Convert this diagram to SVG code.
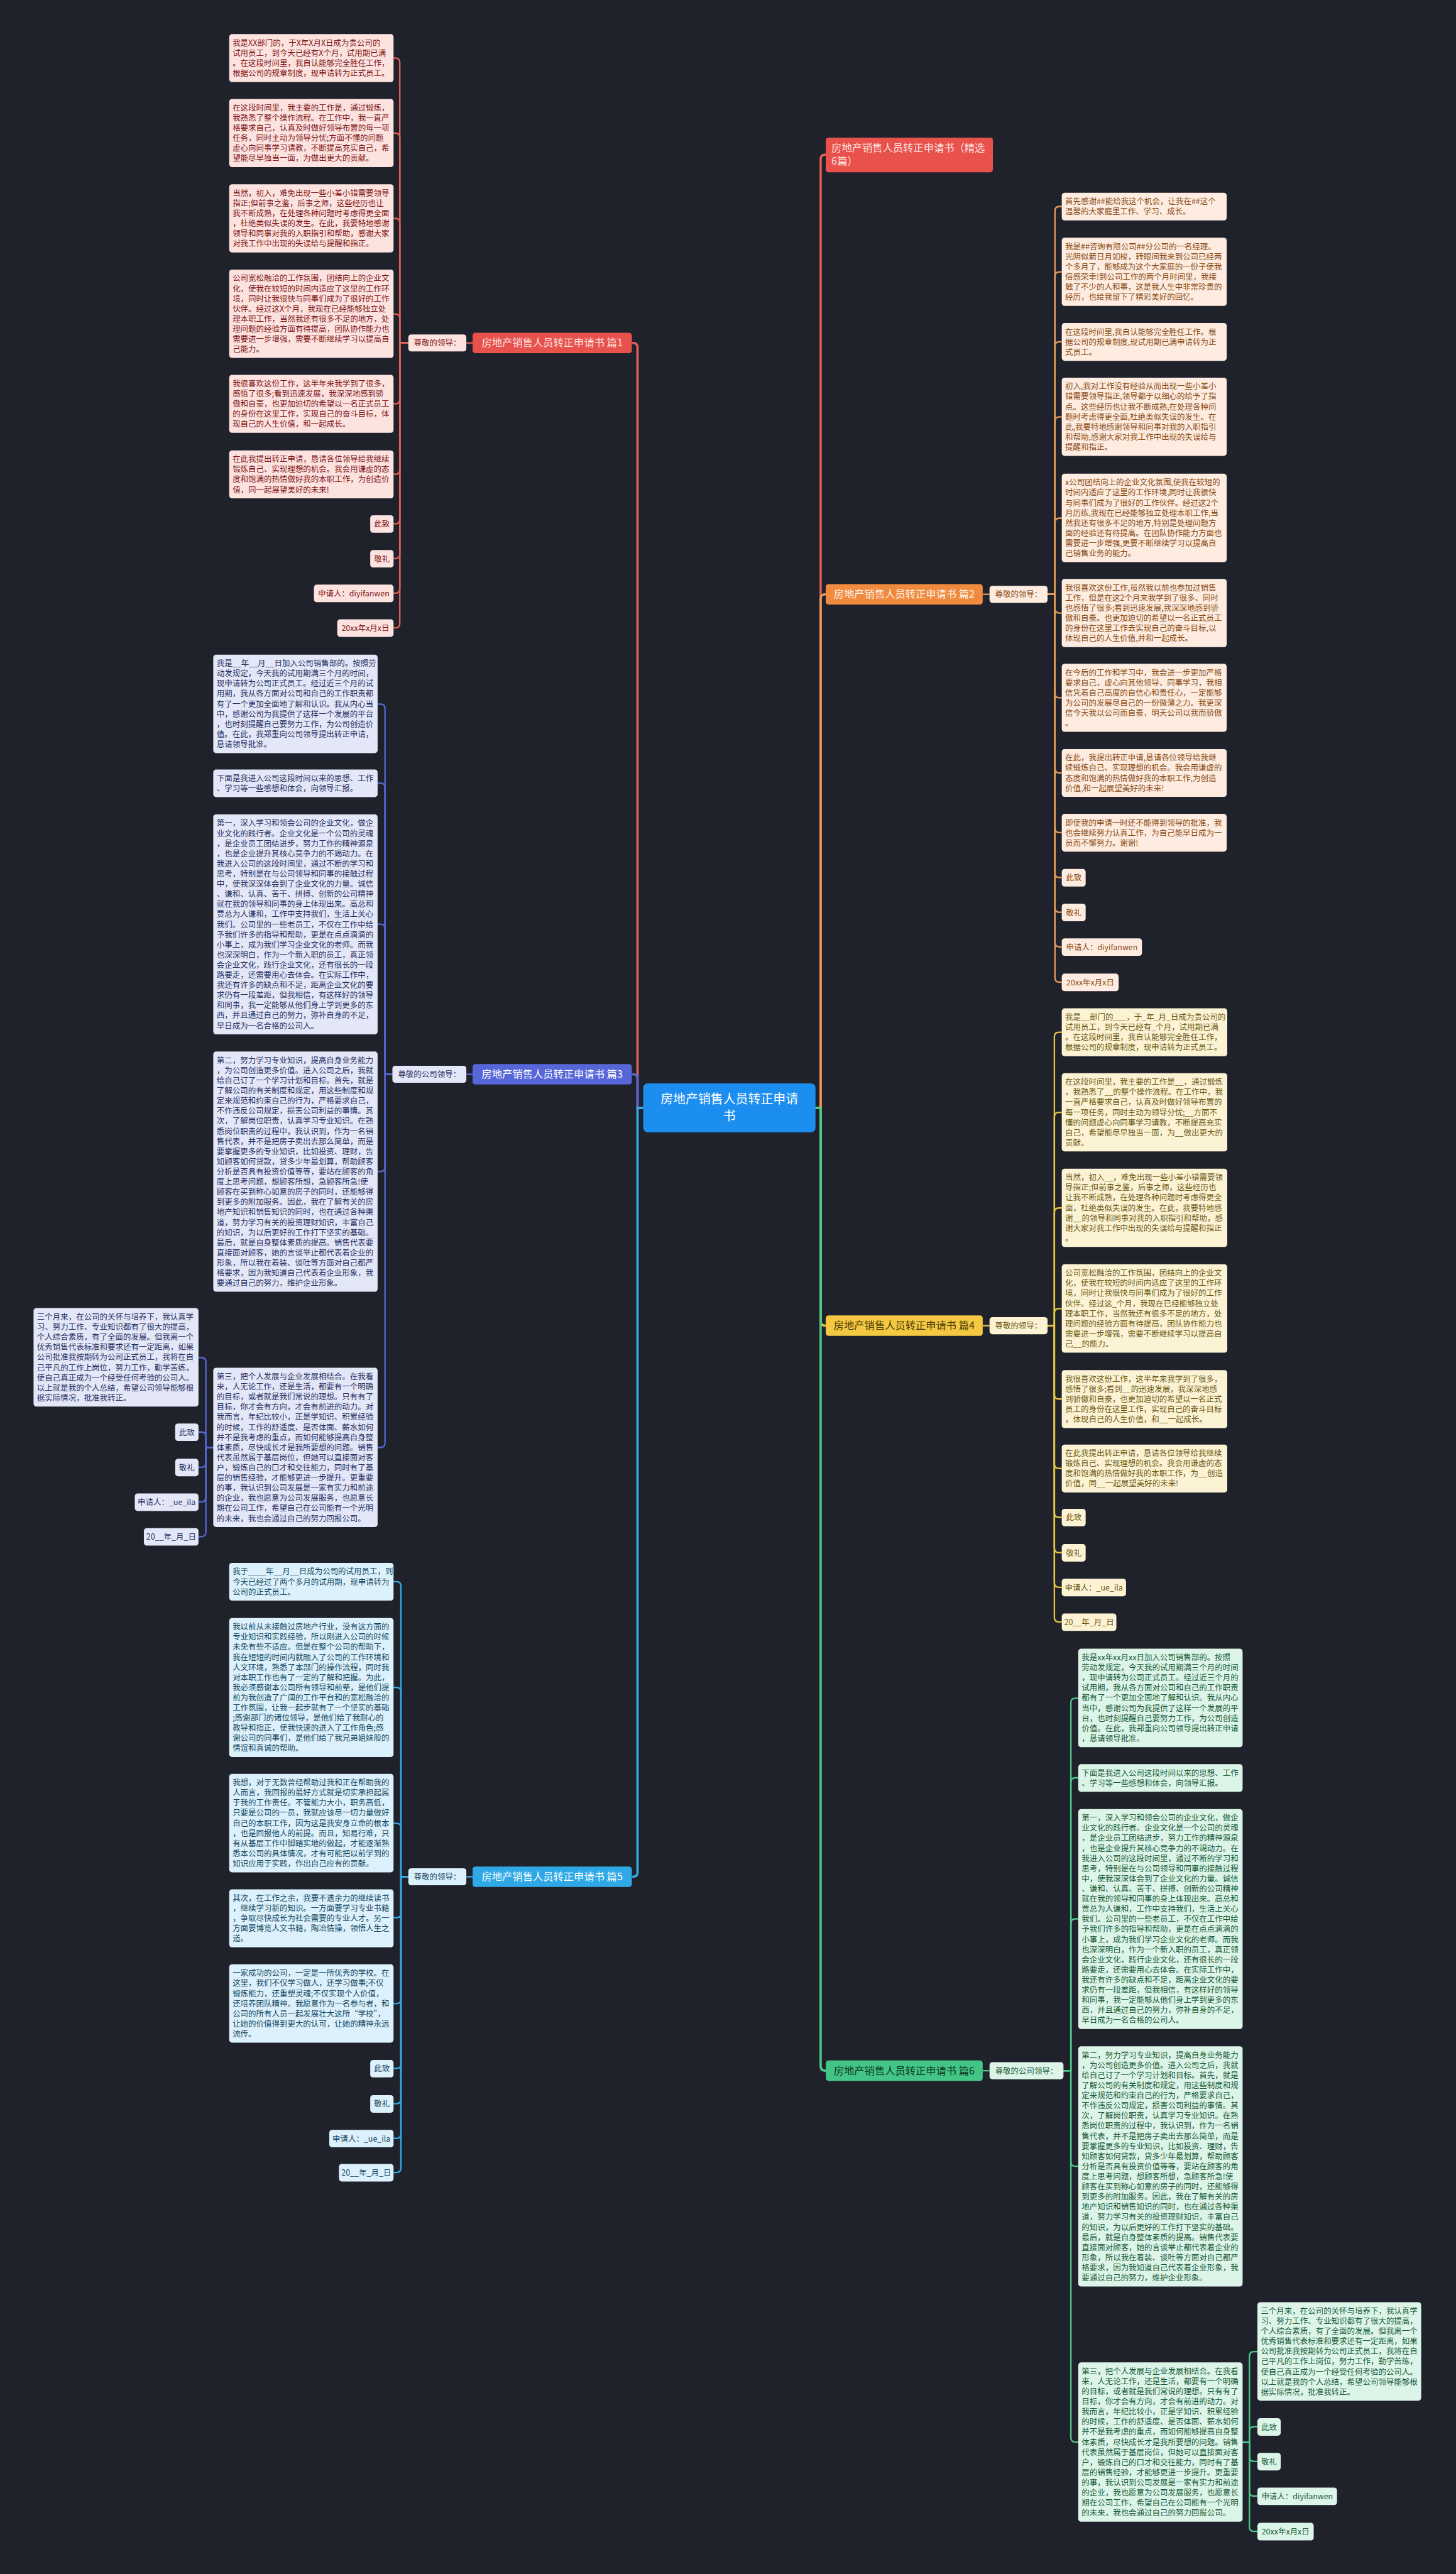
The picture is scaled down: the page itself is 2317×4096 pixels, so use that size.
<svg xmlns="http://www.w3.org/2000/svg" width="2317" height="4096" viewBox="0 0 2317 4096">
<style>
text{font-family:"Noto Sans CJK SC","Noto Sans",sans-serif;}
.t{font-size:13.8px}
.m{text-anchor:middle}
.f1{fill:#fde3e0}.c1{fill:#7d1616}.l1{stroke:#e0605a}
.f2{fill:#fdecdf}.c2{fill:#8a4b15}.l2{stroke:#e99a55}
.f3{fill:#e4e7f8}.c3{fill:#283262}.l3{stroke:#5566d6}
.f4{fill:#fcf3d4}.c4{fill:#6b5914}.l4{stroke:#e8c444}
.f5{fill:#dcf1fb}.c5{fill:#164863}.l5{stroke:#35aae8}
.f6{fill:#dcf5e8}.c6{fill:#1a5a3a}.l6{stroke:#4dc98c}
.cn path{fill:none;stroke-width:2.6}
.rc path{fill:none;stroke-width:4}
.bn{font-size:18px}
</style>
<rect width="2317" height="4096" fill="#1f222b"/>
<g transform="scale(0.905)">

<g id="connectors">
<g class="rc">
<path class="l1" d="M1131 1948H1121V611Q1121 603 1113 603H1111"/>
<path class="l3" d="M1131 1948H1121V1897Q1121 1889 1113 1889H1111"/>
<path class="l5" d="M1131 1948H1121V3292Q1121 3300 1113 3300H1111"/>
<path class="l1" d="M1434 1948H1443V280Q1443 272 1451 272H1452"/>
<path class="l2" d="M1434 1948H1443V1053Q1443 1045 1451 1045H1452"/>
<path class="l4" d="M1434 1948H1443V2323Q1443 2331 1451 2331H1452"/>
<path class="l6" d="M1434 1948H1443V3633Q1443 3641 1451 3641H1452"/>
</g>
<g class="cn">
<path class="l1" d="M831 603H820"/>
<path class="l1" d="M718 603H703V110Q703 102 695 102H692"/>
<path class="l1" d="M718 603H703V242Q703 234 695 234H692"/>
<path class="l1" d="M718 603H703V392Q703 384 695 384H692"/>
<path class="l1" d="M718 603H703V560Q703 552 695 552H692"/>
<path class="l1" d="M718 603H703V702Q703 710 695 710H692"/>
<path class="l1" d="M718 603H703V826Q703 834 695 834H692"/>
<path class="l1" d="M718 603H703V913Q703 921 695 921H692"/>
<path class="l1" d="M718 603H703V974Q703 982 695 982H692"/>
<path class="l1" d="M718 603H703V1035Q703 1043 695 1043H692"/>
<path class="l1" d="M718 603H703V1096Q703 1104 695 1104H692"/>

<path class="l3" d="M831 1889H820"/>
<path class="l3" d="M690 1889H677V1246Q677 1238 669 1238H664"/>
<path class="l3" d="M690 1889H677V1385Q677 1377 669 1377H664"/>
<path class="l3" d="M690 1889H677V1633Q677 1625 669 1625H664"/>
<path class="l3" d="M690 1889H677V2052Q677 2060 669 2060H664"/>
<path class="l3" d="M690 1889H677V2537Q677 2545 669 2545H664"/>
<path class="l3" d="M375 2545H362V2395Q362 2387 354 2387H349"/>
<path class="l3" d="M375 2545H362V2526Q362 2518 354 2518H349"/>
<path class="l3" d="M375 2545H362V2572Q362 2580 354 2580H349"/>
<path class="l3" d="M375 2545H362V2633Q362 2641 354 2641H349"/>
<path class="l3" d="M375 2545H362V2694Q362 2702 354 2702H349"/>

<path class="l5" d="M831 3300H820"/>
<path class="l5" d="M718 3300H705V2789Q705 2781 697 2781H692"/>
<path class="l5" d="M718 3300H705V2975Q705 2967 697 2967H692"/>
<path class="l5" d="M718 3300H705V3214Q705 3206 697 3206H692"/>
<path class="l5" d="M718 3300H705V3364Q705 3372 697 3372H692"/>
<path class="l5" d="M718 3300H705V3515Q705 3523 697 3523H692"/>
<path class="l5" d="M718 3300H705V3629Q705 3637 697 3637H692"/>
<path class="l5" d="M718 3300H705V3691Q705 3699 697 3699H692"/>
<path class="l5" d="M718 3300H705V3752Q705 3760 697 3760H692"/>
<path class="l5" d="M718 3300H705V3812Q705 3820 697 3820H692"/>

<path class="l2" d="M1728 1045H1740"/>
<path class="l2" d="M1842 1045H1855V371Q1855 363 1863 363H1867"/>
<path class="l2" d="M1842 1045H1855V486Q1855 478 1863 478H1867"/>
<path class="l2" d="M1842 1045H1855V609Q1855 601 1863 601H1867"/>
<path class="l2" d="M1842 1045H1855V741Q1855 733 1863 733H1867"/>
<path class="l2" d="M1842 1045H1855V919Q1855 911 1863 911H1867"/>
<path class="l2" d="M1842 1045H1855V1070Q1855 1078 1863 1078H1867"/>
<path class="l2" d="M1842 1045H1855V1219Q1855 1227 1863 1227H1867"/>
<path class="l2" d="M1842 1045H1855V1351Q1855 1359 1863 1359H1867"/>
<path class="l2" d="M1842 1045H1855V1456Q1855 1464 1863 1464H1867"/>
<path class="l2" d="M1842 1045H1855V1535Q1855 1543 1863 1543H1867"/>
<path class="l2" d="M1842 1045H1855V1596Q1855 1604 1863 1604H1867"/>
<path class="l2" d="M1842 1045H1855V1657Q1855 1665 1863 1665H1867"/>
<path class="l2" d="M1842 1045H1855V1719Q1855 1727 1863 1727H1867"/>

<path class="l4" d="M1728 2331H1740"/>
<path class="l4" d="M1842 2331H1854V1823Q1854 1815 1862 1815H1867"/>
<path class="l4" d="M1842 2331H1854V1964Q1854 1956 1862 1956H1867"/>
<path class="l4" d="M1842 2331H1854V2132Q1854 2124 1862 2124H1867"/>
<path class="l4" d="M1842 2331H1854V2309Q1854 2301 1862 2301H1867"/>
<path class="l4" d="M1842 2331H1854V2452Q1854 2460 1862 2460H1867"/>
<path class="l4" d="M1842 2331H1854V2574Q1854 2582 1862 2582H1867"/>
<path class="l4" d="M1842 2331H1854V2660Q1854 2668 1862 2668H1867"/>
<path class="l4" d="M1842 2331H1854V2722Q1854 2730 1862 2730H1867"/>
<path class="l4" d="M1842 2331H1854V2783Q1854 2791 1862 2791H1867"/>
<path class="l4" d="M1842 2331H1854V2844Q1854 2852 1862 2852H1867"/>

<path class="l6" d="M1728 3641H1740"/>
<path class="l6" d="M1870 3641H1883V2994Q1883 2986 1891 2986H1896"/>
<path class="l6" d="M1870 3641H1883V3134Q1883 3126 1891 3126H1896"/>
<path class="l6" d="M1870 3641H1883V3382Q1883 3374 1891 3374H1896"/>
<path class="l6" d="M1870 3641H1883V3801Q1883 3809 1891 3809H1896"/>
<path class="l6" d="M1870 3641H1883V4286Q1883 4294 1891 4294H1896"/>
<path class="l6" d="M2185 4294H2197V4143Q2197 4135 2205 4135H2211"/>
<path class="l6" d="M2185 4294H2197V4275Q2197 4267 2205 4267H2211"/>
<path class="l6" d="M2185 4294H2197V4320Q2197 4328 2205 4328H2211"/>
<path class="l6" d="M2185 4294H2197V4381Q2197 4389 2205 4389H2211"/>
<path class="l6" d="M2185 4294H2197V4443Q2197 4451 2205 4451H2211"/>
</g>
</g>

<g id="root">
<rect x="1131" y="1905" width="303" height="86" rx="8" fill="#1c8ef0"/>
<text x="1282.5" y="1940" class="m" font-size="22" fill="#ffffff">房地产销售人员转正申请<tspan x="1282.5" dy="30">书</tspan></text>
</g>

<g id="b0">
<rect x="1452" y="242" width="294" height="61" rx="5" fill="#e8514c"/>
<text x="1462" y="266" class="bn" fill="#fde3e0">房地产销售人员转正申请书（精选<tspan x="1462" dy="24">6篇）</tspan></text>
</g>

<!-- 篇1 -->
<g id="b1">
<rect x="831" y="585" width="280" height="36" rx="5" fill="#e8514c"/>
<text x="971" y="609" class="bn m" fill="#fde3e0">房地产销售人员转正申请书 篇1</text>
</g>
<g id="b1-lab"><rect x="718" y="588" width="102" height="30" rx="5" class="f1"/><text x="769" y="608" class="t m c1">尊敬的领导：</text></g>
<g id="b1-1"><rect x="403" y="60" width="289" height="84.2" rx="5" class="f1"/><text class="t c1" x="409" y="80.4"><tspan x="409">我是XX部门的，于X年X月X日成为贵公司的</tspan><tspan x="409" dy="17.8">试用员工，到今天已经有X个月，试用期已满</tspan><tspan x="409" dy="17.8">。在这段时间里，我自认能够完全胜任工作，</tspan><tspan x="409" dy="17.8">根据公司的规章制度，现申请转为正式员工。</tspan></text></g>
<g id="b1-2"><rect x="403" y="174" width="289" height="119.8" rx="5" class="f1"/><text class="t c1" x="409" y="194.4"><tspan x="409">在这段时间里，我主要的工作是，通过锻炼，</tspan><tspan x="409" dy="17.8">我熟悉了整个操作流程。在工作中，我一直严</tspan><tspan x="409" dy="17.8">格要求自己，认真及时做好领导布置的每一项</tspan><tspan x="409" dy="17.8">任务，同时主动为领导分忧;方面不懂的问题</tspan><tspan x="409" dy="17.8">虚心向同事学习请教，不断提高充实自己，希</tspan><tspan x="409" dy="17.8">望能尽早独当一面，为做出更大的贡献。</tspan></text></g>
<g id="b1-3"><rect x="403" y="324" width="289" height="119.8" rx="5" class="f1"/><text class="t c1" x="409" y="344.4"><tspan x="409">当然，初入，难免出现一些小差小错需要领导</tspan><tspan x="409" dy="17.8">指正;但前事之鉴，后事之师，这些经历也让</tspan><tspan x="409" dy="17.8">我不断成熟，在处理各种问题时考虑得更全面</tspan><tspan x="409" dy="17.8">，杜绝类似失误的发生。在此，我要特地感谢</tspan><tspan x="409" dy="17.8">领导和同事对我的入职指引和帮助，感谢大家</tspan><tspan x="409" dy="17.8">对我工作中出现的失误给与提醒和指正。</tspan></text></g>
<g id="b1-4"><rect x="403" y="474" width="289" height="155.4" rx="5" class="f1"/><text class="t c1" x="409" y="494.4"><tspan x="409">公司宽松融洽的工作氛围，团结向上的企业文</tspan><tspan x="409" dy="17.8">化，使我在较短的时间内适应了这里的工作环</tspan><tspan x="409" dy="17.8">境，同时让我很快与同事们成为了很好的工作</tspan><tspan x="409" dy="17.8">伙伴。经过这X个月，我现在已经能够独立处</tspan><tspan x="409" dy="17.8">理本职工作，当然我还有很多不足的地方，处</tspan><tspan x="409" dy="17.8">理问题的经验方面有待提高，团队协作能力也</tspan><tspan x="409" dy="17.8">需要进一步增强，需要不断继续学习以提高自</tspan><tspan x="409" dy="17.8">己能力。</tspan></text></g>
<g id="b1-5"><rect x="403" y="659" width="289" height="102" rx="5" class="f1"/><text class="t c1" x="409" y="679.4"><tspan x="409">我很喜欢这份工作，这半年来我学到了很多，</tspan><tspan x="409" dy="17.8">感悟了很多;看到迅速发展，我深深地感到骄</tspan><tspan x="409" dy="17.8">傲和自豪，也更加迫切的希望以一名正式员工</tspan><tspan x="409" dy="17.8">的身份在这里工作，实现自己的奋斗目标，体</tspan><tspan x="409" dy="17.8">现自己的人生价值，和一起成长。</tspan></text></g>
<g id="b1-6"><rect x="403" y="792" width="289" height="84.2" rx="5" class="f1"/><text class="t c1" x="409" y="812.4"><tspan x="409">在此我提出转正申请，恳请各位领导给我继续</tspan><tspan x="409" dy="17.8">锻炼自己、实现理想的机会。我会用谦虚的态</tspan><tspan x="409" dy="17.8">度和饱满的热情做好我的本职工作，为创造价</tspan><tspan x="409" dy="17.8">值，同一起展望美好的未来!</tspan></text></g>
<g id="b1-7"><rect x="651" y="906" width="41" height="30.8" rx="5" class="f1"/><text x="671.5" y="926.4" class="t m c1">此致</text></g>
<g id="b1-8"><rect x="651" y="967" width="41" height="30.8" rx="5" class="f1"/><text x="671.5" y="987.4" class="t m c1">敬礼</text></g>
<g id="b1-9"><rect x="552" y="1028" width="140" height="30.8" rx="5" class="f1"/><text x="622" y="1048.4" class="t m c1">申请人：diyifanwen</text></g>
<g id="b1-10"><rect x="593" y="1089" width="99" height="30.8" rx="5" class="f1"/><text x="642.5" y="1109.4" class="t m c1">20xx年x月x日</text></g>

<!-- 篇2 -->
<g id="b2">
<rect x="1452" y="1027" width="276" height="36" rx="5" fill="#f08a3e"/>
<text x="1590" y="1051" class="bn m" fill="#fff2e6">房地产销售人员转正申请书 篇2</text>
</g>
<g id="b2-lab"><rect x="1740" y="1030" width="102" height="30" rx="5" class="f2"/><text x="1791" y="1050" class="t m c2">尊敬的领导：</text></g>
<g id="b2-1"><rect x="1867" y="339" width="290" height="48.6" rx="5" class="f2"/><text class="t c2" x="1873" y="359.4"><tspan x="1873">首先感谢##能给我这个机会，让我在##这个</tspan><tspan x="1873" dy="17.8">温馨的大家庭里工作、学习、成长。</tspan></text></g>
<g id="b2-2"><rect x="1867" y="418" width="290" height="119.8" rx="5" class="f2"/><text class="t c2" x="1873" y="438.4"><tspan x="1873">我是##咨询有限公司##分公司的一名经理。</tspan><tspan x="1873" dy="17.8">光阴似箭日月如梭，转眼间我来到公司已经两</tspan><tspan x="1873" dy="17.8">个多月了，能够成为这个大家庭的一份子使我</tspan><tspan x="1873" dy="17.8">倍感荣幸!到公司工作的两个月时间里，我接</tspan><tspan x="1873" dy="17.8">触了不少的人和事，这是我人生中非常珍贵的</tspan><tspan x="1873" dy="17.8">经历，也给我留下了精彩美好的回忆。</tspan></text></g>
<g id="b2-3"><rect x="1867" y="568" width="290" height="66.4" rx="5" class="f2"/><text class="t c2" x="1873" y="588.4"><tspan x="1873">在这段时间里,我自认能够完全胜任工作。根</tspan><tspan x="1873" dy="17.8">据公司的规章制度,现试用期已满申请转为正</tspan><tspan x="1873" dy="17.8">式员工。</tspan></text></g>
<g id="b2-4"><rect x="1867" y="664" width="290" height="137.6" rx="5" class="f2"/><text class="t c2" x="1873" y="684.4"><tspan x="1873">初入,我对工作没有经验从而出现一些小差小</tspan><tspan x="1873" dy="17.8">错需要领导指正,领导都于以细心的给予了指</tspan><tspan x="1873" dy="17.8">点。这些经历也让我不断成熟,在处理各种问</tspan><tspan x="1873" dy="17.8">题时考虑得更全面,杜绝类似失误的发生。在</tspan><tspan x="1873" dy="17.8">此,我要特地感谢领导和同事对我的入职指引</tspan><tspan x="1873" dy="17.8">和帮助,感谢大家对我工作中出现的失误给与</tspan><tspan x="1873" dy="17.8">提醒和指正。</tspan></text></g>
<g id="b2-5"><rect x="1867" y="833" width="290" height="155.4" rx="5" class="f2"/><text class="t c2" x="1873" y="853.4"><tspan x="1873">x公司团结向上的企业文化氛围,使我在较短的</tspan><tspan x="1873" dy="17.8">时间内适应了这里的工作环境,同时让我很快</tspan><tspan x="1873" dy="17.8">与同事们成为了很好的工作伙伴。经过这2个</tspan><tspan x="1873" dy="17.8">月历练,我现在已经能够独立处理本职工作,当</tspan><tspan x="1873" dy="17.8">然我还有很多不足的地方,特别是处理问题方</tspan><tspan x="1873" dy="17.8">面的经验还有待提高。在团队协作能力方面也</tspan><tspan x="1873" dy="17.8">需要进一步增强,更要不断继续学习以提高自</tspan><tspan x="1873" dy="17.8">己销售业务的能力。</tspan></text></g>
<g id="b2-6"><rect x="1867" y="1018" width="290" height="119.8" rx="5" class="f2"/><text class="t c2" x="1873" y="1038.4"><tspan x="1873">我很喜欢这份工作,虽然我以前也参加过销售</tspan><tspan x="1873" dy="17.8">工作，但是在这2个月来我学到了很多、同时</tspan><tspan x="1873" dy="17.8">也感悟了很多;看到迅速发展,我深深地感到骄</tspan><tspan x="1873" dy="17.8">傲和自豪。也更加迫切的希望以一名正式员工</tspan><tspan x="1873" dy="17.8">的身份在这里工作去实现自己的奋斗目标,以</tspan><tspan x="1873" dy="17.8">体现自己的人生价值,并和一起成长。</tspan></text></g>
<g id="b2-7"><rect x="1867" y="1167" width="290" height="119.8" rx="5" class="f2"/><text class="t c2" x="1873" y="1187.4"><tspan x="1873">在今后的工作和学习中，我会进一步更加严格</tspan><tspan x="1873" dy="17.8">要求自己，虚心向其他领导、同事学习，我相</tspan><tspan x="1873" dy="17.8">信凭着自己高度的自信心和责任心，一定能够</tspan><tspan x="1873" dy="17.8">为公司的发展尽自己的一份微薄之力。我更深</tspan><tspan x="1873" dy="17.8">信今天我以公司而自豪，明天公司以我而骄傲</tspan><tspan x="1873" dy="17.8">。</tspan></text></g>
<g id="b2-8"><rect x="1867" y="1317" width="290" height="84.2" rx="5" class="f2"/><text class="t c2" x="1873" y="1337.4"><tspan x="1873">在此，我提出转正申请,恳请各位领导给我继</tspan><tspan x="1873" dy="17.8">续锻炼自己、实现理想的机会。我会用谦虚的</tspan><tspan x="1873" dy="17.8">态度和饱满的热情做好我的本职工作,为创造</tspan><tspan x="1873" dy="17.8">价值,和一起展望美好的未来!</tspan></text></g>
<g id="b2-9"><rect x="1867" y="1431" width="290" height="66.4" rx="5" class="f2"/><text class="t c2" x="1873" y="1451.4"><tspan x="1873">即使我的申请一时还不能得到领导的批准，我</tspan><tspan x="1873" dy="17.8">也会继续努力认真工作，为自己能早日成为一</tspan><tspan x="1873" dy="17.8">员而不懈努力。谢谢!</tspan></text></g>
<g id="b2-10"><rect x="1867" y="1528" width="42" height="30.8" rx="5" class="f2"/><text x="1888" y="1548.4" class="t m c2">此致</text></g>
<g id="b2-11"><rect x="1867" y="1589" width="42" height="30.8" rx="5" class="f2"/><text x="1888" y="1609.4" class="t m c2">敬礼</text></g>
<g id="b2-12"><rect x="1867" y="1650" width="141" height="30.8" rx="5" class="f2"/><text x="1937.5" y="1670.4" class="t m c2">申请人：diyifanwen</text></g>
<g id="b2-13"><rect x="1867" y="1712" width="100" height="30.8" rx="5" class="f2"/><text x="1917" y="1732.4" class="t m c2">20xx年x月x日</text></g>

<!-- 篇3 -->
<g id="b3">
<rect x="831" y="1871" width="280" height="36" rx="5" fill="#5766d9"/>
<text x="971" y="1895" class="bn m" fill="#ffffff">房地产销售人员转正申请书 篇3</text>
</g>
<g id="b3-lab"><rect x="690" y="1874" width="130" height="30" rx="5" class="f3"/><text x="755" y="1894" class="t m c3">尊敬的公司领导：</text></g>
<g id="b3-1"><rect x="375" y="1151" width="289" height="173.2" rx="5" class="f3"/><text class="t c3" x="381" y="1171.4"><tspan x="381">我是__年__月__日加入公司销售部的。按照劳</tspan><tspan x="381" dy="17.8">动发规定，今天我的试用期满三个月的时间，</tspan><tspan x="381" dy="17.8">现申请转为公司正式员工。经过近三个月的试</tspan><tspan x="381" dy="17.8">用期，我从各方面对公司和自己的工作职责都</tspan><tspan x="381" dy="17.8">有了一个更加全面地了解和认识。我从内心当</tspan><tspan x="381" dy="17.8">中，感谢公司为我提供了这样一个发展的平台</tspan><tspan x="381" dy="17.8">，也时刻提醒自己要努力工作，为公司创造价</tspan><tspan x="381" dy="17.8">值。在此，我郑重向公司领导提出转正申请，</tspan><tspan x="381" dy="17.8">恳请领导批准。</tspan></text></g>
<g id="b3-2"><rect x="375" y="1353" width="289" height="48.6" rx="5" class="f3"/><text class="t c3" x="381" y="1373.4"><tspan x="381">下面是我进入公司这段时间以来的思想、工作</tspan><tspan x="381" dy="17.8">、学习等一些感想和体会，向领导汇报。</tspan></text></g>
<g id="b3-3"><rect x="375" y="1432" width="289" height="386.8" rx="5" class="f3"/><text class="t c3" x="381" y="1452.4"><tspan x="381">第一，深入学习和领会公司的企业文化，做企</tspan><tspan x="381" dy="17.8">业文化的践行者。企业文化是一个公司的灵魂</tspan><tspan x="381" dy="17.8">，是企业员工团结进步，努力工作的精神源泉</tspan><tspan x="381" dy="17.8">，也是企业提升其核心竞争力的不竭动力。在</tspan><tspan x="381" dy="17.8">我进入公司的这段时间里，通过不断的学习和</tspan><tspan x="381" dy="17.8">思考，特别是在与公司领导和同事的接触过程</tspan><tspan x="381" dy="17.8">中，使我深深体会到了企业文化的力量。诚信</tspan><tspan x="381" dy="17.8">、谦和、认真、苦干、拼搏、创新的公司精神</tspan><tspan x="381" dy="17.8">就在我的领导和同事的身上体现出来。高总和</tspan><tspan x="381" dy="17.8">贾总为人谦和，工作中支持我们，生活上关心</tspan><tspan x="381" dy="17.8">我们。公司里的一些老员工，不仅在工作中给</tspan><tspan x="381" dy="17.8">予我们许多的指导和帮助，更是在点点滴滴的</tspan><tspan x="381" dy="17.8">小事上，成为我们学习企业文化的老师。而我</tspan><tspan x="381" dy="17.8">也深深明白，作为一个新入职的员工，真正领</tspan><tspan x="381" dy="17.8">会企业文化，践行企业文化，还有很长的一段</tspan><tspan x="381" dy="17.8">路要走，还需要用心去体会。在实际工作中，</tspan><tspan x="381" dy="17.8">我还有许多的缺点和不足，距离企业文化的要</tspan><tspan x="381" dy="17.8">求仍有一段差距，但我相信，有这样好的领导</tspan><tspan x="381" dy="17.8">和同事，我一定能够从他们身上学到更多的东</tspan><tspan x="381" dy="17.8">西，并且通过自己的努力，弥补自身的不足，</tspan><tspan x="381" dy="17.8">早日成为一名合格的公司人。</tspan></text></g>
<g id="b3-4"><rect x="375" y="1849" width="289" height="422.4" rx="5" class="f3"/><text class="t c3" x="381" y="1869.4"><tspan x="381">第二，努力学习专业知识，提高自身业务能力</tspan><tspan x="381" dy="17.8">，为公司创造更多价值。进入公司之后，我就</tspan><tspan x="381" dy="17.8">给自己订了一个学习计划和目标。首先，就是</tspan><tspan x="381" dy="17.8">了解公司的有关制度和规定，用这些制度和规</tspan><tspan x="381" dy="17.8">定来规范和约束自己的行为，严格要求自己，</tspan><tspan x="381" dy="17.8">不作违反公司规定，损害公司利益的事情。其</tspan><tspan x="381" dy="17.8">次，了解岗位职责，认真学习专业知识。在熟</tspan><tspan x="381" dy="17.8">悉岗位职责的过程中，我认识到，作为一名销</tspan><tspan x="381" dy="17.8">售代表，并不是把房子卖出去那么简单，而是</tspan><tspan x="381" dy="17.8">要掌握更多的专业知识，比如投资、理财，告</tspan><tspan x="381" dy="17.8">知顾客如何贷款，贷多少年最划算，帮助顾客</tspan><tspan x="381" dy="17.8">分析是否具有投资价值等等，要站在顾客的角</tspan><tspan x="381" dy="17.8">度上思考问题，想顾客所想，急顾客所急!使</tspan><tspan x="381" dy="17.8">顾客在买到称心如意的房子的同时，还能够得</tspan><tspan x="381" dy="17.8">到更多的附加服务。因此，我在了解有关的房</tspan><tspan x="381" dy="17.8">地产知识和销售知识的同时，也在通过各种渠</tspan><tspan x="381" dy="17.8">道，努力学习有关的投资理财知识，丰富自己</tspan><tspan x="381" dy="17.8">的知识，为以后更好的工作打下坚实的基础。</tspan><tspan x="381" dy="17.8">最后，就是自身整体素质的提高。销售代表要</tspan><tspan x="381" dy="17.8">直接面对顾客，她的言谈举止都代表着企业的</tspan><tspan x="381" dy="17.8">形象，所以我在着装、谈吐等方面对自己都严</tspan><tspan x="381" dy="17.8">格要求，因为我知道自己代表着企业形象，我</tspan><tspan x="381" dy="17.8">要通过自己的努力，维护企业形象。</tspan></text></g>
<g id="b3-5"><rect x="375" y="2405" width="289" height="280" rx="5" class="f3"/><text class="t c3" x="381" y="2425.4"><tspan x="381">第三，把个人发展与企业发展相结合。在我看</tspan><tspan x="381" dy="17.8">来，人无论工作，还是生活，都要有一个明确</tspan><tspan x="381" dy="17.8">的目标，或者就是我们常说的理想。只有有了</tspan><tspan x="381" dy="17.8">目标，你才会有方向，才会有前进的动力。对</tspan><tspan x="381" dy="17.8">我而言，年纪比较小，正是学知识、积累经验</tspan><tspan x="381" dy="17.8">的时候，工作的舒适度、是否体面、薪水如何</tspan><tspan x="381" dy="17.8">并不是我考虑的重点，而如何能够提高自身整</tspan><tspan x="381" dy="17.8">体素质，尽快成长才是我所要想的问题。销售</tspan><tspan x="381" dy="17.8">代表虽然属于基层岗位，但她可以直接面对客</tspan><tspan x="381" dy="17.8">户，锻炼自己的口才和交往能力，同时有了基</tspan><tspan x="381" dy="17.8">层的销售经验，才能够更进一步提升。更重要</tspan><tspan x="381" dy="17.8">的事，我认识到公司发展是一家有实力和前途</tspan><tspan x="381" dy="17.8">的企业，我也愿意为公司发展服务，也愿意长</tspan><tspan x="381" dy="17.8">期在公司工作，希望自己在公司能有一个光明</tspan><tspan x="381" dy="17.8">的未来，我也会通过自己的努力回报公司。</tspan></text></g>
<g id="b3-6"><rect x="59" y="2300" width="290" height="173.2" rx="5" class="f3"/><text class="t c3" x="65" y="2320.4"><tspan x="65">三个月来，在公司的关怀与培养下，我认真学</tspan><tspan x="65" dy="17.8">习、努力工作、专业知识都有了很大的提高，</tspan><tspan x="65" dy="17.8">个人综合素质，有了全面的发展。但我离一个</tspan><tspan x="65" dy="17.8">优秀销售代表标准和要求还有一定距离，如果</tspan><tspan x="65" dy="17.8">公司批准我按期转为公司正式员工，我将在自</tspan><tspan x="65" dy="17.8">己平凡的工作上岗位，努力工作，勤学苦练，</tspan><tspan x="65" dy="17.8">使自己真正成为一个经受任何考验的公司人。</tspan><tspan x="65" dy="17.8">以上就是我的个人总结，希望公司领导能够根</tspan><tspan x="65" dy="17.8">据实际情况，批准我转正。</tspan></text></g>
<g id="b3-7"><rect x="308" y="2503" width="41" height="30.8" rx="5" class="f3"/><text x="328.5" y="2523.4" class="t m c3">此致</text></g>
<g id="b3-8"><rect x="308" y="2565" width="41" height="30.8" rx="5" class="f3"/><text x="328.5" y="2585.4" class="t m c3">敬礼</text></g>
<g id="b3-9"><rect x="237" y="2626" width="112" height="30.8" rx="5" class="f3"/><text x="293" y="2646.4" class="t m c3">申请人：_ue_ila</text></g>
<g id="b3-10"><rect x="253" y="2687" width="96" height="30.8" rx="5" class="f3"/><text x="301" y="2707.4" class="t m c3">20__年_月_日</text></g>

<!-- 篇4 -->
<g id="b4">
<rect x="1452" y="2313" width="276" height="36" rx="5" fill="#f4c841"/>
<text x="1590" y="2337" class="bn m" fill="#4a3c05">房地产销售人员转正申请书 篇4</text>
</g>
<g id="b4-lab"><rect x="1740" y="2316" width="102" height="30" rx="5" class="f4"/><text x="1791" y="2336" class="t m c4">尊敬的领导：</text></g>
<g id="b4-1"><rect x="1867" y="1773" width="291" height="84.2" rx="5" class="f4"/><text class="t c4" x="1873" y="1793.4"><tspan x="1873">我是__部门的___，于_年_月_日成为贵公司的</tspan><tspan x="1873" dy="17.8">试用员工，到今天已经有_个月，试用期已满</tspan><tspan x="1873" dy="17.8">。在这段时间里，我自认能够完全胜任工作，</tspan><tspan x="1873" dy="17.8">根据公司的规章制度，现申请转为正式员工。</tspan></text></g>
<g id="b4-2"><rect x="1867" y="1887" width="291" height="137.6" rx="5" class="f4"/><text class="t c4" x="1873" y="1907.4"><tspan x="1873">在这段时间里，我主要的工作是__，通过锻炼</tspan><tspan x="1873" dy="17.8">，我熟悉了__的整个操作流程。在工作中，我</tspan><tspan x="1873" dy="17.8">一直严格要求自己，认真及时做好领导布置的</tspan><tspan x="1873" dy="17.8">每一项任务，同时主动为领导分忧;__方面不</tspan><tspan x="1873" dy="17.8">懂的问题虚心向同事学习请教，不断提高充实</tspan><tspan x="1873" dy="17.8">自己，希望能尽早独当一面，为__做出更大的</tspan><tspan x="1873" dy="17.8">贡献。</tspan></text></g>
<g id="b4-3"><rect x="1867" y="2055" width="291" height="137.6" rx="5" class="f4"/><text class="t c4" x="1873" y="2075.4"><tspan x="1873">当然，初入__，难免出现一些小差小错需要领</tspan><tspan x="1873" dy="17.8">导指正;但前事之鉴，后事之师，这些经历也</tspan><tspan x="1873" dy="17.8">让我不断成熟，在处理各种问题时考虑得更全</tspan><tspan x="1873" dy="17.8">面，杜绝类似失误的发生。在此，我要特地感</tspan><tspan x="1873" dy="17.8">谢__的领导和同事对我的入职指引和帮助，感</tspan><tspan x="1873" dy="17.8">谢大家对我工作中出现的失误给与提醒和指正</tspan><tspan x="1873" dy="17.8">。</tspan></text></g>
<g id="b4-4"><rect x="1867" y="2223" width="291" height="155.4" rx="5" class="f4"/><text class="t c4" x="1873" y="2243.4"><tspan x="1873">公司宽松融洽的工作氛围，团结向上的企业文</tspan><tspan x="1873" dy="17.8">化，使我在较短的时间内适应了这里的工作环</tspan><tspan x="1873" dy="17.8">境，同时让我很快与同事们成为了很好的工作</tspan><tspan x="1873" dy="17.8">伙伴。经过这_个月，我现在已经能够独立处</tspan><tspan x="1873" dy="17.8">理本职工作，当然我还有很多不足的地方，处</tspan><tspan x="1873" dy="17.8">理问题的经验方面有待提高，团队协作能力也</tspan><tspan x="1873" dy="17.8">需要进一步增强，需要不断继续学习以提高自</tspan><tspan x="1873" dy="17.8">己__的能力。</tspan></text></g>
<g id="b4-5"><rect x="1867" y="2409" width="291" height="102" rx="5" class="f4"/><text class="t c4" x="1873" y="2429.4"><tspan x="1873">我很喜欢这份工作，这半年来我学到了很多，</tspan><tspan x="1873" dy="17.8">感悟了很多;看到__的迅速发展，我深深地感</tspan><tspan x="1873" dy="17.8">到骄傲和自豪，也更加迫切的希望以一名正式</tspan><tspan x="1873" dy="17.8">员工的身份在这里工作，实现自己的奋斗目标</tspan><tspan x="1873" dy="17.8">，体现自己的人生价值，和__一起成长。</tspan></text></g>
<g id="b4-6"><rect x="1867" y="2540" width="291" height="84.2" rx="5" class="f4"/><text class="t c4" x="1873" y="2560.4"><tspan x="1873">在此我提出转正申请，恳请各位领导给我继续</tspan><tspan x="1873" dy="17.8">锻炼自己、实现理想的机会。我会用谦虚的态</tspan><tspan x="1873" dy="17.8">度和饱满的热情做好我的本职工作，为__创造</tspan><tspan x="1873" dy="17.8">价值，同__一起展望美好的未来!</tspan></text></g>
<g id="b4-7"><rect x="1867" y="2653" width="42" height="30.8" rx="5" class="f4"/><text x="1888" y="2673.4" class="t m c4">此致</text></g>
<g id="b4-8"><rect x="1867" y="2715" width="42" height="30.8" rx="5" class="f4"/><text x="1888" y="2735.4" class="t m c4">敬礼</text></g>
<g id="b4-9"><rect x="1867" y="2776" width="113" height="30.8" rx="5" class="f4"/><text x="1923.5" y="2796.4" class="t m c4">申请人：_ue_ila</text></g>
<g id="b4-10"><rect x="1867" y="2837" width="96" height="30.8" rx="5" class="f4"/><text x="1915" y="2857.4" class="t m c4">20__年_月_日</text></g>

<!-- 篇5 -->
<g id="b5">
<rect x="831" y="3282" width="280" height="36" rx="5" fill="#2fa8e8"/>
<text x="971" y="3306" class="bn m" fill="#ffffff">房地产销售人员转正申请书 篇5</text>
</g>
<g id="b5-lab"><rect x="718" y="3285" width="102" height="30" rx="5" class="f5"/><text x="769" y="3305" class="t m c5">尊敬的领导：</text></g>
<g id="b5-1"><rect x="403" y="2748" width="289" height="66.4" rx="5" class="f5"/><text class="t c5" x="409" y="2768.4"><tspan x="409">我于____年__月__日成为公司的试用员工，到</tspan><tspan x="409" dy="17.8">今天已经过了两个多月的试用期，现申请转为</tspan><tspan x="409" dy="17.8">公司的正式员工。</tspan></text></g>
<g id="b5-2"><rect x="403" y="2845" width="289" height="244.4" rx="5" class="f5"/><text class="t c5" x="409" y="2865.4"><tspan x="409">我以前从未接触过房地产行业，没有这方面的</tspan><tspan x="409" dy="17.8">专业知识和实践经验，所以刚进入公司的时候</tspan><tspan x="409" dy="17.8">未免有些不适应。但是在整个公司的帮助下，</tspan><tspan x="409" dy="17.8">我在短短的时间内就融入了公司的工作环境和</tspan><tspan x="409" dy="17.8">人文环境，熟悉了本部门的操作流程，同时我</tspan><tspan x="409" dy="17.8">对本职工作也有了一定的了解和把握。为此，</tspan><tspan x="409" dy="17.8">我必须感谢本公司所有领导和前辈，是他们提</tspan><tspan x="409" dy="17.8">前为我创造了广阔的工作平台和的宽松融洽的</tspan><tspan x="409" dy="17.8">工作氛围，让我一起步就有了一个坚实的基础</tspan><tspan x="409" dy="17.8">;感谢部门的诸位领导，是他们给了我耐心的</tspan><tspan x="409" dy="17.8">教导和指正，使我快速的进入了工作角色;感</tspan><tspan x="409" dy="17.8">谢公司的同事们，是他们给了我兄弟姐妹般的</tspan><tspan x="409" dy="17.8">情谊和真诚的帮助。</tspan></text></g>
<g id="b5-3"><rect x="403" y="3119" width="289" height="173.2" rx="5" class="f5"/><text class="t c5" x="409" y="3139.4"><tspan x="409">我想，对于无数曾经帮助过我和正在帮助我的</tspan><tspan x="409" dy="17.8">人而言，我回报的最好方式就是切实承担起属</tspan><tspan x="409" dy="17.8">于我的工作责任。不管能力大小，职务高低，</tspan><tspan x="409" dy="17.8">只要是公司的一员，我就应该尽一切力量做好</tspan><tspan x="409" dy="17.8">自己的本职工作，因为这是我安身立命的根本</tspan><tspan x="409" dy="17.8">，也是回报他人的前提。而且，知易行难，只</tspan><tspan x="409" dy="17.8">有从基层工作中脚踏实地的做起，才能逐渐熟</tspan><tspan x="409" dy="17.8">悉本公司的具体情况，才有可能把以前学到的</tspan><tspan x="409" dy="17.8">知识应用于实践，作出自己应有的贡献。</tspan></text></g>
<g id="b5-4"><rect x="403" y="3322" width="289" height="102" rx="5" class="f5"/><text class="t c5" x="409" y="3342.4"><tspan x="409">其次，在工作之余，我要不遗余力的继续读书</tspan><tspan x="409" dy="17.8">，继续学习新的知识。一方面要学习专业书籍</tspan><tspan x="409" dy="17.8">，争取尽快成长为社会需要的专业人才。另一</tspan><tspan x="409" dy="17.8">方面要博览人文书籍，陶冶情操，领悟人生之</tspan><tspan x="409" dy="17.8">道。</tspan></text></g>
<g id="b5-5"><rect x="403" y="3454" width="289" height="137.6" rx="5" class="f5"/><text class="t c5" x="409" y="3474.4"><tspan x="409">一家成功的公司，一定是一所优秀的学校。在</tspan><tspan x="409" dy="17.8">这里，我们不仅学习做人，还学习做事;不仅</tspan><tspan x="409" dy="17.8">锻炼能力，还重塑灵魂;不仅实现个人价值，</tspan><tspan x="409" dy="17.8">还培养团队精神。我愿意作为一名参与者，和</tspan><tspan x="409" dy="17.8">公司的所有人员一起发展壮大这所“学校”，</tspan><tspan x="409" dy="17.8">让她的价值得到更大的认可，让她的精神永远</tspan><tspan x="409" dy="17.8">流传。</tspan></text></g>
<g id="b5-6"><rect x="651" y="3622" width="41" height="30.8" rx="5" class="f5"/><text x="671.5" y="3642.4" class="t m c5">此致</text></g>
<g id="b5-7"><rect x="651" y="3684" width="41" height="30.8" rx="5" class="f5"/><text x="671.5" y="3704.4" class="t m c5">敬礼</text></g>
<g id="b5-8"><rect x="579" y="3745" width="113" height="30.8" rx="5" class="f5"/><text x="635.5" y="3765.4" class="t m c5">申请人：_ue_ila</text></g>
<g id="b5-9"><rect x="596" y="3805" width="96" height="30.8" rx="5" class="f5"/><text x="644" y="3825.4" class="t m c5">20__年_月_日</text></g>

<!-- 篇6 -->
<g id="b6">
<rect x="1452" y="3623" width="276" height="36" rx="5" fill="#43c585"/>
<text x="1590" y="3647" class="bn m" fill="#0e3a22">房地产销售人员转正申请书 篇6</text>
</g>
<g id="b6-lab"><rect x="1740" y="3626" width="130" height="30" rx="5" class="f6"/><text x="1805" y="3646" class="t m c6">尊敬的公司领导：</text></g>
<g id="b6-1"><rect x="1896" y="2899" width="289" height="173.2" rx="5" class="f6"/><text class="t c6" x="1902" y="2919.4"><tspan x="1902">我是xx年xx月xx日加入公司销售部的。按照</tspan><tspan x="1902" dy="17.8">劳动发规定，今天我的试用期满三个月的时间</tspan><tspan x="1902" dy="17.8">，现申请转为公司正式员工。经过近三个月的</tspan><tspan x="1902" dy="17.8">试用期，我从各方面对公司和自己的工作职责</tspan><tspan x="1902" dy="17.8">都有了一个更加全面地了解和认识。我从内心</tspan><tspan x="1902" dy="17.8">当中，感谢公司为我提供了这样一个发展的平</tspan><tspan x="1902" dy="17.8">台，也时刻提醒自己要努力工作，为公司创造</tspan><tspan x="1902" dy="17.8">价值。在此，我郑重向公司领导提出转正申请</tspan><tspan x="1902" dy="17.8">，恳请领导批准。</tspan></text></g>
<g id="b6-2"><rect x="1896" y="3102" width="289" height="48.6" rx="5" class="f6"/><text class="t c6" x="1902" y="3122.4"><tspan x="1902">下面是我进入公司这段时间以来的思想、工作</tspan><tspan x="1902" dy="17.8">、学习等一些感想和体会，向领导汇报。</tspan></text></g>
<g id="b6-3"><rect x="1896" y="3181" width="289" height="386.8" rx="5" class="f6"/><text class="t c6" x="1902" y="3201.4"><tspan x="1902">第一，深入学习和领会公司的企业文化，做企</tspan><tspan x="1902" dy="17.8">业文化的践行者。企业文化是一个公司的灵魂</tspan><tspan x="1902" dy="17.8">，是企业员工团结进步，努力工作的精神源泉</tspan><tspan x="1902" dy="17.8">，也是企业提升其核心竞争力的不竭动力。在</tspan><tspan x="1902" dy="17.8">我进入公司的这段时间里，通过不断的学习和</tspan><tspan x="1902" dy="17.8">思考，特别是在与公司领导和同事的接触过程</tspan><tspan x="1902" dy="17.8">中，使我深深体会到了企业文化的力量。诚信</tspan><tspan x="1902" dy="17.8">、谦和、认真、苦干、拼搏、创新的公司精神</tspan><tspan x="1902" dy="17.8">就在我的领导和同事的身上体现出来。高总和</tspan><tspan x="1902" dy="17.8">贾总为人谦和，工作中支持我们，生活上关心</tspan><tspan x="1902" dy="17.8">我们。公司里的一些老员工，不仅在工作中给</tspan><tspan x="1902" dy="17.8">予我们许多的指导和帮助，更是在点点滴滴的</tspan><tspan x="1902" dy="17.8">小事上，成为我们学习企业文化的老师。而我</tspan><tspan x="1902" dy="17.8">也深深明白，作为一个新入职的员工，真正领</tspan><tspan x="1902" dy="17.8">会企业文化，践行企业文化，还有很长的一段</tspan><tspan x="1902" dy="17.8">路要走，还需要用心去体会。在实际工作中，</tspan><tspan x="1902" dy="17.8">我还有许多的缺点和不足，距离企业文化的要</tspan><tspan x="1902" dy="17.8">求仍有一段差距，但我相信，有这样好的领导</tspan><tspan x="1902" dy="17.8">和同事，我一定能够从他们身上学到更多的东</tspan><tspan x="1902" dy="17.8">西，并且通过自己的努力，弥补自身的不足，</tspan><tspan x="1902" dy="17.8">早日成为一名合格的公司人。</tspan></text></g>
<g id="b6-4"><rect x="1896" y="3598" width="289" height="422.4" rx="5" class="f6"/><text class="t c6" x="1902" y="3618.4"><tspan x="1902">第二，努力学习专业知识，提高自身业务能力</tspan><tspan x="1902" dy="17.8">，为公司创造更多价值。进入公司之后，我就</tspan><tspan x="1902" dy="17.8">给自己订了一个学习计划和目标。首先，就是</tspan><tspan x="1902" dy="17.8">了解公司的有关制度和规定，用这些制度和规</tspan><tspan x="1902" dy="17.8">定来规范和约束自己的行为，严格要求自己，</tspan><tspan x="1902" dy="17.8">不作违反公司规定，损害公司利益的事情。其</tspan><tspan x="1902" dy="17.8">次，了解岗位职责，认真学习专业知识。在熟</tspan><tspan x="1902" dy="17.8">悉岗位职责的过程中，我认识到，作为一名销</tspan><tspan x="1902" dy="17.8">售代表，并不是把房子卖出去那么简单，而是</tspan><tspan x="1902" dy="17.8">要掌握更多的专业知识，比如投资、理财，告</tspan><tspan x="1902" dy="17.8">知顾客如何贷款，贷多少年最划算，帮助顾客</tspan><tspan x="1902" dy="17.8">分析是否具有投资价值等等，要站在顾客的角</tspan><tspan x="1902" dy="17.8">度上思考问题，想顾客所想，急顾客所急!使</tspan><tspan x="1902" dy="17.8">顾客在买到称心如意的房子的同时，还能够得</tspan><tspan x="1902" dy="17.8">到更多的附加服务。因此，我在了解有关的房</tspan><tspan x="1902" dy="17.8">地产知识和销售知识的同时，也在通过各种渠</tspan><tspan x="1902" dy="17.8">道，努力学习有关的投资理财知识，丰富自己</tspan><tspan x="1902" dy="17.8">的知识，为以后更好的工作打下坚实的基础。</tspan><tspan x="1902" dy="17.8">最后，就是自身整体素质的提高。销售代表要</tspan><tspan x="1902" dy="17.8">直接面对顾客，她的言谈举止都代表着企业的</tspan><tspan x="1902" dy="17.8">形象，所以我在着装、谈吐等方面对自己都严</tspan><tspan x="1902" dy="17.8">格要求，因为我知道自己代表着企业形象，我</tspan><tspan x="1902" dy="17.8">要通过自己的努力，维护企业形象。</tspan></text></g>
<g id="b6-5"><rect x="1896" y="4154" width="289" height="280" rx="5" class="f6"/><text class="t c6" x="1902" y="4174.4"><tspan x="1902">第三，把个人发展与企业发展相结合。在我看</tspan><tspan x="1902" dy="17.8">来，人无论工作，还是生活，都要有一个明确</tspan><tspan x="1902" dy="17.8">的目标，或者就是我们常说的理想。只有有了</tspan><tspan x="1902" dy="17.8">目标，你才会有方向，才会有前进的动力。对</tspan><tspan x="1902" dy="17.8">我而言，年纪比较小，正是学知识、积累经验</tspan><tspan x="1902" dy="17.8">的时候，工作的舒适度、是否体面、薪水如何</tspan><tspan x="1902" dy="17.8">并不是我考虑的重点，而如何能够提高自身整</tspan><tspan x="1902" dy="17.8">体素质，尽快成长才是我所要想的问题。销售</tspan><tspan x="1902" dy="17.8">代表虽然属于基层岗位，但她可以直接面对客</tspan><tspan x="1902" dy="17.8">户，锻炼自己的口才和交往能力，同时有了基</tspan><tspan x="1902" dy="17.8">层的销售经验，才能够更进一步提升。更重要</tspan><tspan x="1902" dy="17.8">的事，我认识到公司发展是一家有实力和前途</tspan><tspan x="1902" dy="17.8">的企业，我也愿意为公司发展服务，也愿意长</tspan><tspan x="1902" dy="17.8">期在公司工作，希望自己在公司能有一个光明</tspan><tspan x="1902" dy="17.8">的未来，我也会通过自己的努力回报公司。</tspan></text></g>
<g id="b6-6"><rect x="2211" y="4048" width="288" height="173.2" rx="5" class="f6"/><text class="t c6" x="2217" y="4068.4"><tspan x="2217">三个月来，在公司的关怀与培养下，我认真学</tspan><tspan x="2217" dy="17.8">习、努力工作、专业知识都有了很大的提高，</tspan><tspan x="2217" dy="17.8">个人综合素质，有了全面的发展。但我离一个</tspan><tspan x="2217" dy="17.8">优秀销售代表标准和要求还有一定距离，如果</tspan><tspan x="2217" dy="17.8">公司批准我按期转为公司正式员工，我将在自</tspan><tspan x="2217" dy="17.8">己平凡的工作上岗位，努力工作，勤学苦练，</tspan><tspan x="2217" dy="17.8">使自己真正成为一个经受任何考验的公司人。</tspan><tspan x="2217" dy="17.8">以上就是我的个人总结，希望公司领导能够根</tspan><tspan x="2217" dy="17.8">据实际情况，批准我转正。</tspan></text></g>
<g id="b6-7"><rect x="2211" y="4252" width="41" height="30.8" rx="5" class="f6"/><text x="2231.5" y="4272.4" class="t m c6">此致</text></g>
<g id="b6-8"><rect x="2211" y="4313" width="41" height="30.8" rx="5" class="f6"/><text x="2231.5" y="4333.4" class="t m c6">敬礼</text></g>
<g id="b6-9"><rect x="2211" y="4374" width="140" height="30.8" rx="5" class="f6"/><text x="2281" y="4394.4" class="t m c6">申请人：diyifanwen</text></g>
<g id="b6-10"><rect x="2211" y="4436" width="99" height="30.8" rx="5" class="f6"/><text x="2260.5" y="4456.4" class="t m c6">20xx年x月x日</text></g>

</g>
</svg>
